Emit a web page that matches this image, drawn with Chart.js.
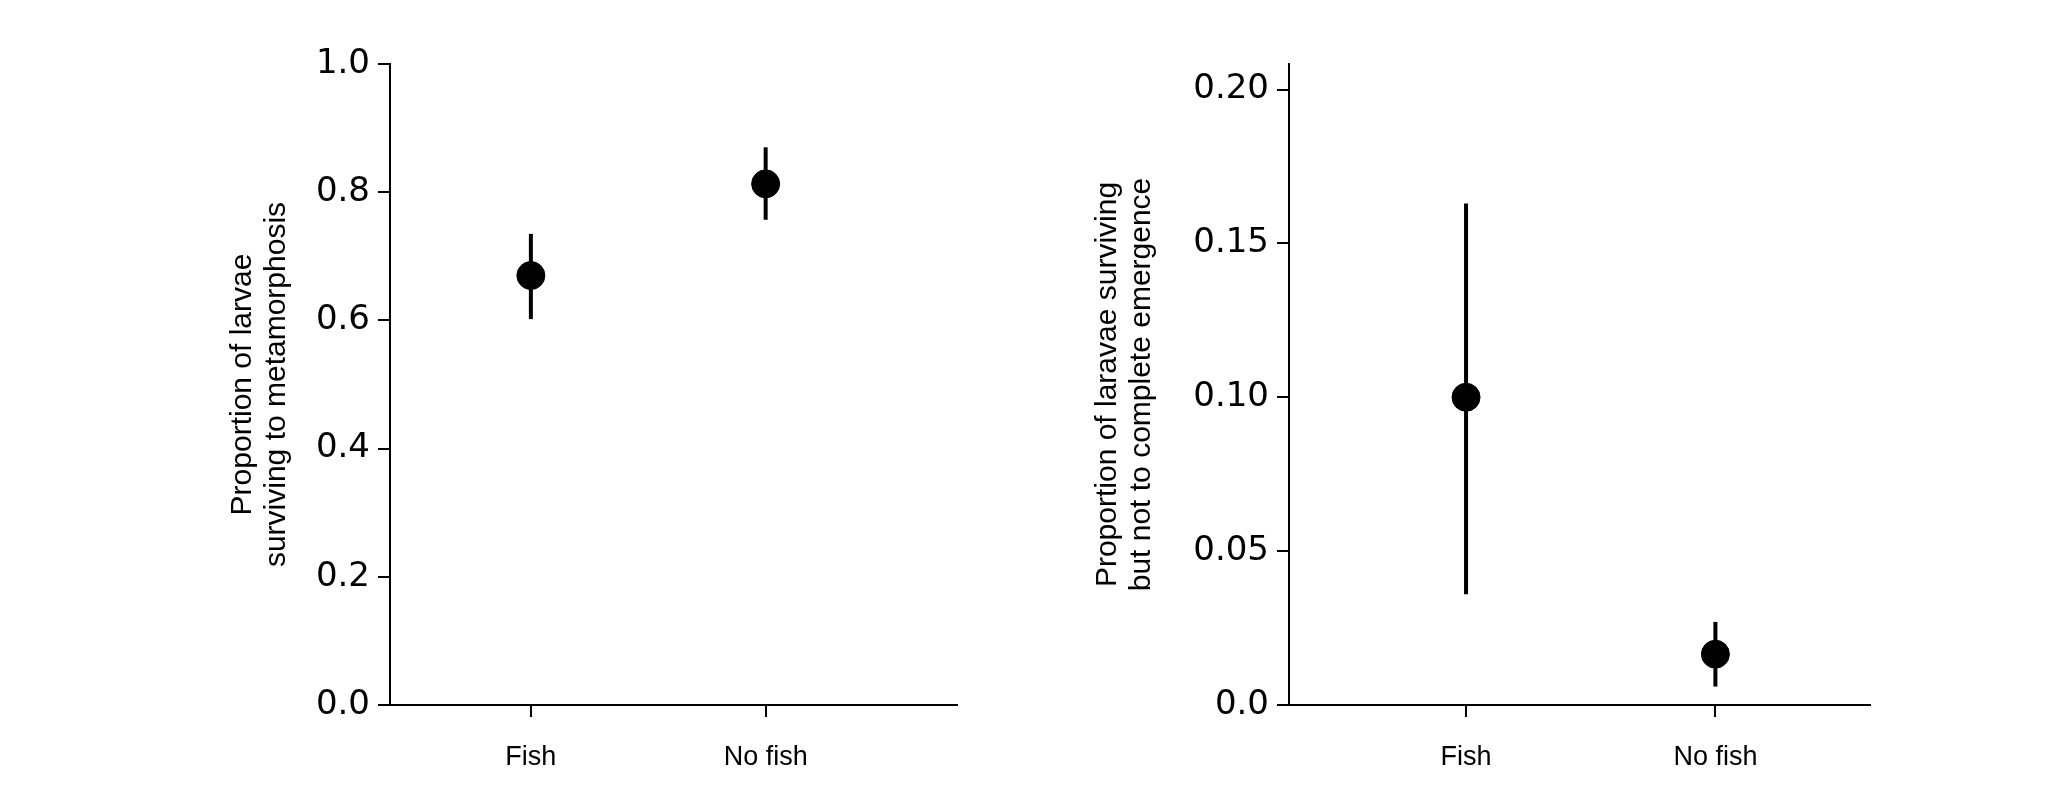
<!DOCTYPE html>
<html><head><meta charset="utf-8">
<script src="https://cdn.jsdelivr.net/npm/chart.js@4"></script>
<style>body{margin:0;background:#fff;width:2066px;height:797px;overflow:hidden;position:relative}
.c{position:absolute;top:0;height:797px}</style></head><body>
<div class="c" style="left:0;width:1000px"><canvas id="a"></canvas></div>
<div class="c" style="left:1000px;width:1066px"><canvas id="b"></canvas></div>
<script>
const categories = ["Fish", "No fish"];
const survMean = [0.67, 0.813];
const survLow = [0.602, 0.757];
const survHigh = [0.735, 0.870];
const emergMean = [0.100, 0.0165];
const emergLow = [0.036, 0.006];
const emergHigh = [0.163, 0.027];
const leftTicks = [0, 0.2, 0.4, 0.6, 0.8, 1.0];
const rightTicks = [0, 0.05, 0.10, 0.15, 0.20];
const rightTickLabels = ["0.0", "0.05", "0.10", "0.15", "0.20"];

const errPlugin = {id:'err', beforeDatasetsDraw(chart){
  const {ctx, scales:{x,y}} = chart; const d = chart.config.options.plugins.err;
  ctx.save(); ctx.strokeStyle='#000'; ctx.lineWidth=4;
  d.low.forEach((l,i)=>{const px=x.getPixelForValue(i);
    ctx.beginPath(); ctx.moveTo(px,y.getPixelForValue(l)); ctx.lineTo(px,y.getPixelForValue(d.high[i])); ctx.stroke();});
  ctx.restore();}};

function make(id, mean, low, high, ticks, fmt, ymax, xmin, xmax, title, padLeft, padRight, yw){
  new Chart(document.getElementById(id), {
    type:'scatter',
    data:{datasets:[{data:mean.map((v,i)=>({x:i,y:v})), backgroundColor:'#000', borderColor:'#000', pointRadius:14, pointHoverRadius:14}]},
    plugins:[errPlugin],
    options:{responsive:true, maintainAspectRatio:false, animation:false,
      layout:{padding:{left:padLeft, top:64, right:padRight, bottom:0}},
      plugins:{legend:{display:false}, tooltip:{enabled:false}, err:{low, high}},
      scales:{
        x:{type:'linear', min:xmin, max:xmax,
          afterBuildTicks:s=>{s.ticks=categories.map((c,i)=>({value:i}));},
          afterFit:s=>{s.height=92;},
          ticks:{callback:(v)=>categories[v], color:'#000', font:{family:'Liberation Sans', size:27}, padding:24},
          grid:{drawOnChartArea:false, color:'#000', lineWidth:2, tickLength:12, tickWidth:2},
          border:{color:'#000', width:2}},
        y:{min:0, max:ymax,
          afterBuildTicks:s=>{s.ticks=ticks.map(v=>({value:v}));},
          afterFit:s=>{s.width=yw;},
          ticks:{callback:fmt, color:'#000', font:{family:'DejaVu Sans', size:34}, padding:8},
          title:{display:true, text:title, color:'#000', font:{family:'Liberation Sans', size:30, lineHeight:1.15}, padding:0},
          grid:{drawOnChartArea:false, color:'#000', lineWidth:2, tickLength:12, tickWidth:2},
          border:{color:'#000', width:2}}
      }}});
}
make('a', survMean, survLow, survHigh, leftTicks, v=>v.toFixed(1), 1.0, -0.6, 1.815,
  ["Proportion of larvae","surviving to metamorphosis"], 225, 43, 165);
make('b', emergMean, emergLow, emergHigh, rightTicks, v=>rightTickLabels[rightTicks.findIndex(t=>Math.abs(t-v)<1e-9)], 0.2083, -0.71, 1.62,
  ["Proportion of laravae surviving","but not to complete emergence"], 90, 196, 199);
</script></body></html>
